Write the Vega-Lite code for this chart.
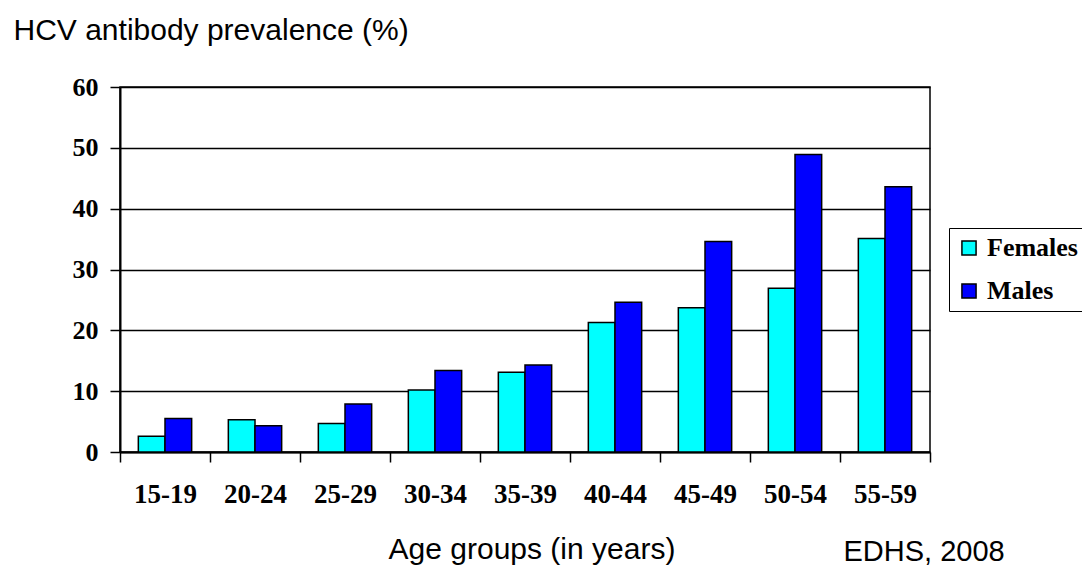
{
  "$schema": "https://vega.github.io/schema/vega-lite/v6.json",
  "width": 810,
  "height": 365,
  "autosize": {"type": "none"},
  "padding": {"left": 120, "top": 87, "right": 152, "bottom": 120},
  "background": "white",
  "config": {"view": {"stroke": "black", "strokeWidth": 1.5}},
  "data": {
    "values": [
      {"age": "15-19", "sex": "Females", "value": 2.6},
      {"age": "15-19", "sex": "Males", "value": 5.5},
      {"age": "20-24", "sex": "Females", "value": 5.3},
      {"age": "20-24", "sex": "Males", "value": 4.3},
      {"age": "25-29", "sex": "Females", "value": 4.7},
      {"age": "25-29", "sex": "Males", "value": 7.9},
      {"age": "30-34", "sex": "Females", "value": 10.2},
      {"age": "30-34", "sex": "Males", "value": 13.4},
      {"age": "35-39", "sex": "Females", "value": 13.1},
      {"age": "35-39", "sex": "Males", "value": 14.3},
      {"age": "40-44", "sex": "Females", "value": 21.3},
      {"age": "40-44", "sex": "Males", "value": 24.6},
      {"age": "45-49", "sex": "Females", "value": 23.7},
      {"age": "45-49", "sex": "Males", "value": 34.6},
      {"age": "50-54", "sex": "Females", "value": 26.9},
      {"age": "50-54", "sex": "Males", "value": 48.9},
      {"age": "55-59", "sex": "Females", "value": 35.1},
      {"age": "55-59", "sex": "Males", "value": 43.6}
    ]
  },
  "layer": [
    {
      "mark": {"type": "bar", "stroke": "black", "strokeWidth": 1.5},
      "encoding": {
        "x": {
          "field": "age", "type": "nominal", "sort": null,
          "scale": {"paddingInner": 0, "paddingOuter": 0},
          "axis": {
            "tickBand": "extent", "tickSize": 10, "tickColor": "black", "tickWidth": 1.5,
            "domainColor": "black", "domainWidth": 2, "grid": false,
            "labelAngle": 0, "labelFont": "Liberation Serif", "labelFontWeight": "bold",
            "labelFontSize": 27, "labelColor": "black", "labelBaseline": "alphabetic", "labelPadding": 40,
            "title": "Age groups (in years)", "titleX": 411.5, "titleY": 106,
            "titleBaseline": "alphabetic", "titleAlign": "center", "titleAnchor": null,
            "titleFont": "Liberation Sans", "titleFontSize": 30, "titleFontWeight": "normal", "titleColor": "black"
          }
        },
        "xOffset": {
          "field": "sex", "type": "nominal", "sort": ["Females", "Males"],
          "scale": {"paddingInner": 0, "paddingOuter": 0.6875}
        },
        "y": {
          "field": "value", "type": "quantitative",
          "scale": {"domain": [0, 60], "nice": false},
          "axis": {
            "values": [0, 10, 20, 30, 40, 50, 60],
            "tickSize": 10, "tickColor": "black", "tickWidth": 1.5,
            "domainColor": "black", "domainWidth": 2,
            "grid": true, "gridColor": "black", "gridWidth": 1.3, "gridOpacity": 1,
            "labelFont": "Liberation Serif", "labelFontWeight": "bold", "labelFontSize": 26,
            "labelColor": "black", "labelPadding": 12,
            "title": "HCV antibody prevalence (%)", "titleAngle": 0, "titleAlign": "left",
            "titleBaseline": "alphabetic", "titleX": -107, "titleY": -48,
            "titleFont": "Liberation Sans", "titleFontSize": 30, "titleFontWeight": "normal", "titleColor": "black"
          }
        },
        "color": {
          "field": "sex", "type": "nominal",
          "scale": {"domain": ["Females", "Males"], "range": ["#00FFFF", "#0000FF"]},
          "legend": {
            "orient": "none", "legendX": 829, "legendY": 141, "title": null,
            "strokeColor": "black", "fillColor": "white", "padding": 7,
            "symbolType": "square", "symbolSize": 200, "symbolStrokeColor": "black",
            "symbolStrokeWidth": 1.5, "symbolOpacity": 1,
            "labelFont": "Liberation Serif", "labelFontWeight": "bold", "labelFontSize": 26,
            "labelColor": "black", "labelOffset": 5, "rowPadding": 17
          }
        }
      }
    },
    {
      "mark": {"type": "rule", "opacity": 0},
      "encoding": {
        "y": {
          "field": "value", "type": "quantitative",
          "axis": {
            "orient": "right", "labels": false, "ticks": false, "domain": false, "grid": false,
            "title": "EDHS, 2008", "titleAngle": 0, "titleAlign": "left", "titleBaseline": "alphabetic",
            "titleX": -87, "titleY": 473,
            "titleFont": "Liberation Sans", "titleFontSize": 29, "titleFontWeight": "normal", "titleColor": "black"
          }
        }
      }
    }
  ],
  "resolve": {"axis": {"y": "independent"}}
}
